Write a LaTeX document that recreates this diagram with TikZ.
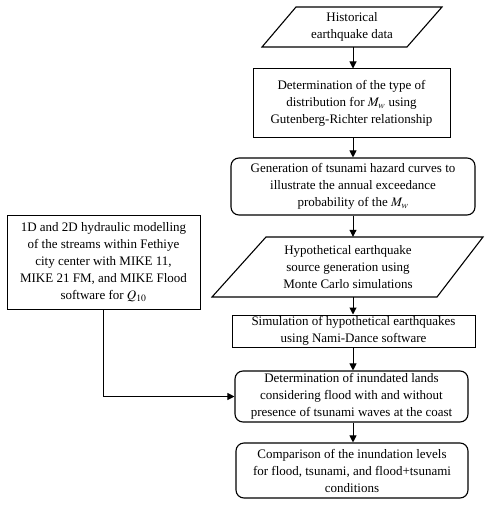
\documentclass[tikz,border=0pt]{standalone}
\usepackage{mathptmx}
\usepackage{fontspec}
\setmainfont{Liberation Serif}
\usetikzlibrary{arrows.meta,calc}
\begin{document}
\begin{tikzpicture}[x=1pt,y=-1pt,
  txt/.style={align=center,inner sep=0pt,font=\fontsize{13}{17}\selectfont},
  rectbox/.style={txt,draw,line width=1pt,minimum width=#1},
  roundbox/.style={txt,draw,line width=1.1pt,rounded corners=8pt,minimum width=#1},
  arr/.style={line width=1pt,-{Triangle[length=7pt,width=7pt]}}]
\useasboundingbox (0,0) rectangle (500,505);
% parallelogram 1
\node[txt,minimum width=180pt,minimum height=40pt] (n1) at (352,27) {Historical\\earthquake data};
\draw[line width=1.1pt] (296,7) -- (442,7) -- (407,47) -- (262,47) -- cycle;
\node[rectbox=197pt,minimum height=69pt] (n2) at (351.5,103.5) {Determination of the type of\\distribution for $M_w$ using\\Gutenberg-Richter relationship};
\node[roundbox=244pt,minimum height=57pt] (n3) at (353,186.5) {Generation of tsunami hazard curves to\\illustrate the annual exceedance\\probability of the $M_w$};
% parallelogram 2
\node[txt,minimum width=220pt,minimum height=60pt] (n4) at (348,267) {Hypothetical earthquake\\source generation using\\Monte Carlo simulations};
\draw[line width=1.1pt] (266,237) -- (483,237) -- (437,297) -- (212,297) -- cycle;
\node[rectbox=243pt,minimum height=32pt] (n5) at (353.5,331) {Simulation of hypothetical earthquakes\\using Nami-Dance software};
\node[roundbox=233pt,minimum height=51pt] (n6) at (351.5,396.5) {Determination of inundated lands\\considering flood with and without\\presence of tsunami waves at the coast};
\node[roundbox=232pt,minimum height=55pt] (n7) at (352,470.5) {Comparison of the inundation levels\\for flood, tsunami, and flood+tsunami\\conditions};
\node[rectbox=193pt,minimum height=94pt] (L) at (103.5,262) {1D and 2D hydraulic modelling\\of the streams within Fethiye\\city center with MIKE 11,\\MIKE 21 FM, and MIKE Flood\\software for $Q_{10}$};
% connectors
\coordinate (ax) at (353,0);
\draw[arr] (ax |- n1.south) -- (ax |- n2.north);
\draw[arr] (ax |- n2.south) -- (ax |- n3.north);
\draw[arr] (ax |- n3.south) -- (ax |- n4.north);
\draw[arr] (ax |- n4.south) -- (ax |- n5.north);
\draw[arr] (ax |- n5.south) -- (ax |- n6.north);
\draw[arr] (ax |- n6.south) -- (ax |- n7.north);
\draw[arr] (L.south) |- (n6.west);
\end{tikzpicture}
\end{document}
